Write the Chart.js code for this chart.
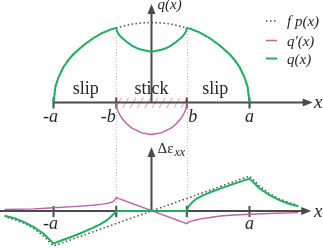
<!DOCTYPE html>
<html lang="en">
<head>
<meta charset="UTF-8">
<title>Partial slip traction and strain</title>
<style>
  html, body { margin: 0; padding: 0; background: #fff; }
  #chart { display: block; }
</style>
<script src="https://cdn.jsdelivr.net/npm/chart.js"></script>
</head>
<body>
<canvas id="chart" width="323" height="248"></canvas>
<script>
// x is measured in units of the contact half-width a; stick zone |x| < b
var B = 0.36;
var tickPos = [-1, -B, B, 1];
var tickTop = ['-a', '-b', 'b', 'a'];
var tickBottom = ['-a', '', '', 'a'];
var zoneNames = ['slip', 'stick', 'slip'];
var zoneCenters = [-0.67, 0, 0.65];
var legendNames = ['f p(x)', "q'(x)", 'q(x)'];

// top panel: f p(x), q'(x), q(x)
var fpX = [-1, -0.98, -0.95, -0.9, -0.8, -0.7, -0.6, -0.5, -0.4, -0.3, -0.2, -0.1, 0, 0.1, 0.2, 0.3, 0.4, 0.5, 0.6, 0.7, 0.8, 0.9, 0.95, 0.98, 1];
var fpY = [0, 0.2, 0.31, 0.44, 0.6, 0.71, 0.8, 0.87, 0.92, 0.95, 0.98, 0.995, 1, 0.995, 0.98, 0.95, 0.92, 0.87, 0.8, 0.71, 0.6, 0.44, 0.31, 0.2, 0];

var qpX = [-0.36, -0.355, -0.345, -0.33, -0.3, -0.25, -0.2, -0.1, 0, 0.1, 0.2, 0.25, 0.3, 0.33, 0.345, 0.355, 0.36];
var qpY = [0, -0.06, -0.1, -0.14, -0.2, -0.27, -0.32, -0.38, -0.4, -0.38, -0.32, -0.27, -0.2, -0.14, -0.1, -0.06, 0];

var qX = [-1, -0.98, -0.95, -0.9, -0.85, -0.8, -0.7, -0.6, -0.5, -0.4, -0.36, -0.35, -0.33, -0.3, -0.25, -0.2, -0.15, -0.1, 0, 0.1, 0.15, 0.2, 0.25, 0.3, 0.33, 0.35, 0.36, 0.4, 0.5, 0.6, 0.7, 0.8, 0.85, 0.9, 0.95, 0.98, 1];
var qY = [0, 0.2, 0.31, 0.44, 0.53, 0.6, 0.71, 0.8, 0.87, 0.92, 0.93, 0.885, 0.845, 0.805, 0.755, 0.71, 0.68, 0.66, 0.635, 0.66, 0.68, 0.71, 0.755, 0.805, 0.845, 0.885, 0.93, 0.92, 0.87, 0.8, 0.71, 0.6, 0.53, 0.44, 0.31, 0.2, 0];

// bottom panel: strain difference
var epsFpX = [-1.47, -1.4, -1.3, -1.2, -1.1, -1.05, -1, 1, 1.05, 1.1, 1.2, 1.3, 1.4, 1.47];
var epsFpY = [-0.18, -0.24, -0.34, -0.49, -0.7, -0.84, -0.97, 0.97, 0.84, 0.7, 0.49, 0.34, 0.24, 0.18];

var epsQpX = [-1.5, -1.2, -1, -0.8, -0.6, -0.5, -0.45, -0.4, -0.38, -0.36, 0.36, 0.38, 0.4, 0.45, 0.5, 0.6, 0.7, 0.8, 1, 1.2, 1.5];
var epsQpY = [0.04, 0.06, 0.09, 0.12, 0.16, 0.19, 0.21, 0.25, 0.29, 0.37, -0.35, -0.31, -0.29, -0.25, -0.22, -0.18, -0.14, -0.12, -0.09, -0.07, -0.045];

var epsQX = [-1.5, -1.4, -1.3, -1.2, -1.1, -1.05, -1, -0.9, -0.8, -0.7, -0.6, -0.53, -0.47, -0.43, -0.4, -0.38, -0.36, 0.36, 0.37, 0.38, 0.4, 0.43, 0.47, 0.53, 0.6, 0.7, 0.8, 0.9, 1, 1.05, 1.1, 1.2, 1.3, 1.4, 1.5];
var epsQY = [-0.13, -0.2, -0.31, -0.45, -0.63, -0.77, -0.9, -0.8, -0.7, -0.59, -0.47, -0.38, -0.28, -0.2, -0.12, -0.07, 0, 0, 0.08, 0.13, 0.2, 0.28, 0.36, 0.44, 0.52, 0.62, 0.72, 0.81, 0.9, 0.77, 0.63, 0.45, 0.31, 0.2, 0.13];

var GREEN = '#1fae5f', PINK = '#bb62ab', DOT = '#4a4a4a', AXIS = '#4a4a4a';
var HATCH = '#f29a9a', GUIDE = '#b8b8b8', INK = '#262626';
var SERIF = '"Liberation Serif", "DejaVu Serif", serif';

function pts(xs, ys) {
  return xs.map(function (x, i) { return { x: x, y: ys[i] }; });
}

function line(id, xs, ys, color, width, dash) {
  return {
    data: pts(xs, ys), yAxisID: id, showLine: true,
    borderColor: color, borderWidth: width, borderDash: dash || [],
    pointRadius: 0, fill: false, tension: 0
  };
}

function arrowHead(ctx, x, y, dir) {
  ctx.beginPath();
  if (dir === 'right') {
    ctx.moveTo(x, y); ctx.lineTo(x - 10, y - 4); ctx.lineTo(x - 10, y + 4);
  } else {
    ctx.moveTo(x, y); ctx.lineTo(x - 4, y + 10); ctx.lineTo(x + 4, y + 10);
  }
  ctx.closePath();
  ctx.fill();
}

function seg(ctx, x0, y0, x1, y1) {
  ctx.beginPath(); ctx.moveTo(x0, y0); ctx.lineTo(x1, y1); ctx.stroke();
}

var decor = {
  id: 'decor',
  beforeDatasetsDraw: function (chart) {
    var ctx = chart.ctx, sx = chart.scales.x, st = chart.scales.y, sb = chart.scales.y2;
    var y0t = st.getPixelForValue(0), y0b = sb.getPixelForValue(0), xc = sx.getPixelForValue(0);
    var xb0 = sx.getPixelForValue(-B), xb1 = sx.getPixelForValue(B);
    ctx.save();

    // hatching of the stick zone
    ctx.save();
    ctx.beginPath(); ctx.rect(xb0, y0t - 5, xb1 - xb0, 10.5); ctx.clip();
    ctx.strokeStyle = HATCH; ctx.lineWidth = 1;
    for (var hx = xb0 - 8; hx < xb1 + 8; hx += 7.3) seg(ctx, hx, y0t + 5.5, hx + 6, y0t - 5);
    ctx.restore();

    // dotted guides at +-b through both panels
    ctx.strokeStyle = GUIDE; ctx.lineWidth = 1; ctx.setLineDash([1, 2]);
    [xb0, xb1].forEach(function (gx) {
      seg(ctx, Math.round(gx) + 0.5, st.getPixelForValue(0.93), Math.round(gx) + 0.5, sb.getPixelForValue(-0.42));
    });
    ctx.setLineDash([]);

    // axes
    ctx.strokeStyle = AXIS; ctx.fillStyle = AXIS; ctx.lineWidth = 2;
    var tipTop = sx.getPixelForValue(1.645), tipBot = sx.getPixelForValue(1.63);
    seg(ctx, sx.getPixelForValue(-1), y0t, tipTop - 6, y0t);
    arrowHead(ctx, tipTop, y0t, 'right');
    seg(ctx, xc, y0t, xc, st.getPixelForValue(1.23) + 6);
    arrowHead(ctx, xc, st.getPixelForValue(1.23), 'up');
    seg(ctx, chart.chartArea.left, y0b, tipBot - 6, y0b);
    arrowHead(ctx, tipBot, y0b, 'right');
    seg(ctx, xc, y0b, xc, sb.getPixelForValue(1.78) + 6);
    arrowHead(ctx, xc, sb.getPixelForValue(1.78), 'up');

    tickPos.forEach(function (v) {
      var px = sx.getPixelForValue(v);
      seg(ctx, px, y0t - 5, px, y0t + 6);
      seg(ctx, px, y0b - 5, px, y0b + 6);
    });
    ctx.restore();
  },
  afterDatasetsDraw: function (chart) {
    var ctx = chart.ctx, sx = chart.scales.x, st = chart.scales.y, sb = chart.scales.y2;
    var y0t = st.getPixelForValue(0), y0b = sb.getPixelForValue(0), xc = sx.getPixelForValue(0);
    ctx.save();
    ctx.fillStyle = INK;
    ctx.textBaseline = 'alphabetic';

    // tick labels
    ctx.font = 'italic 18px ' + SERIF;
    var offs = [-3, -8, 6, 0];
    tickPos.forEach(function (v, i) {
      var px = sx.getPixelForValue(v) + offs[i];
      ctx.textAlign = 'center';
      if (tickTop[i]) ctx.fillText(tickTop[i], px, y0t + 20);
      if (tickBottom[i]) ctx.fillText(tickBottom[i], px, y0b + 18);
    });

    // zone names
    ctx.font = '18px ' + SERIF;
    zoneNames.forEach(function (n, i) {
      ctx.fillText(n, sx.getPixelForValue(zoneCenters[i]), y0t - 8);
    });

    // axis names
    ctx.textAlign = 'left';
    ctx.font = 'italic 19px ' + SERIF;
    ctx.fillText('x', 314, y0t + 6);
    ctx.fillText('x', 314, y0b + 6);
    ctx.font = 'italic 15px ' + SERIF;
    ctx.fillText('q(x)', xc + 6, 9);
    ctx.font = '15px ' + SERIF;
    ctx.fillText('\u0394\u03b5', xc + 6, sb.getPixelForValue(1.6));
    var w = ctx.measureText('\u0394\u03b5').width;
    ctx.font = 'italic 12px ' + SERIF;
    ctx.fillText('xx', xc + 7 + w, sb.getPixelForValue(1.6) + 3);

    // legend
    var ly = [21, 40.5, 58.5];
    var styles = [[DOT, 1.5, [1.5, 2.5]], [PINK, 1.5, []], [GREEN, 2, []]];
    ctx.font = 'italic 15px ' + SERIF;
    legendNames.forEach(function (n, i) {
      ctx.strokeStyle = styles[i][0]; ctx.lineWidth = styles[i][1]; ctx.setLineDash(styles[i][2]);
      seg(ctx, 266, ly[i], 277, ly[i]);
      ctx.setLineDash([]);
      ctx.fillText(n, 287, ly[i] + 5);
    });
    ctx.restore();
  }
};

new Chart(document.getElementById('chart'), {
  type: 'scatter',
  data: {
    datasets: [
      line('y', qX, qY, GREEN, 2),
      line('y2', epsQX, epsQY, GREEN, 2),
      line('y', qpX, qpY, PINK, 1.4),
      line('y2', epsQpX, epsQpY, PINK, 1.4),
      line('y', fpX, fpY, DOT, 1.5, [1.5, 2.5]),
      line('y2', epsFpX, epsFpY, DOT, 1.5, [1.5, 2.5])
    ]
  },
  options: {
    responsive: false,
    animation: false,
    events: [],
    layout: { padding: 0 },
    plugins: { legend: { display: false }, tooltip: { enabled: false } },
    scales: {
      x: { type: 'linear', display: false, min: -1.546, max: 1.75 },
      y: { type: 'linear', display: false, min: -1.819, max: 1.281 },
      y2: { type: 'linear', position: 'right', display: false, min: -1.028, max: 5.861 }
    }
  },
  plugins: [decor]
});
</script>
</body>
</html>
